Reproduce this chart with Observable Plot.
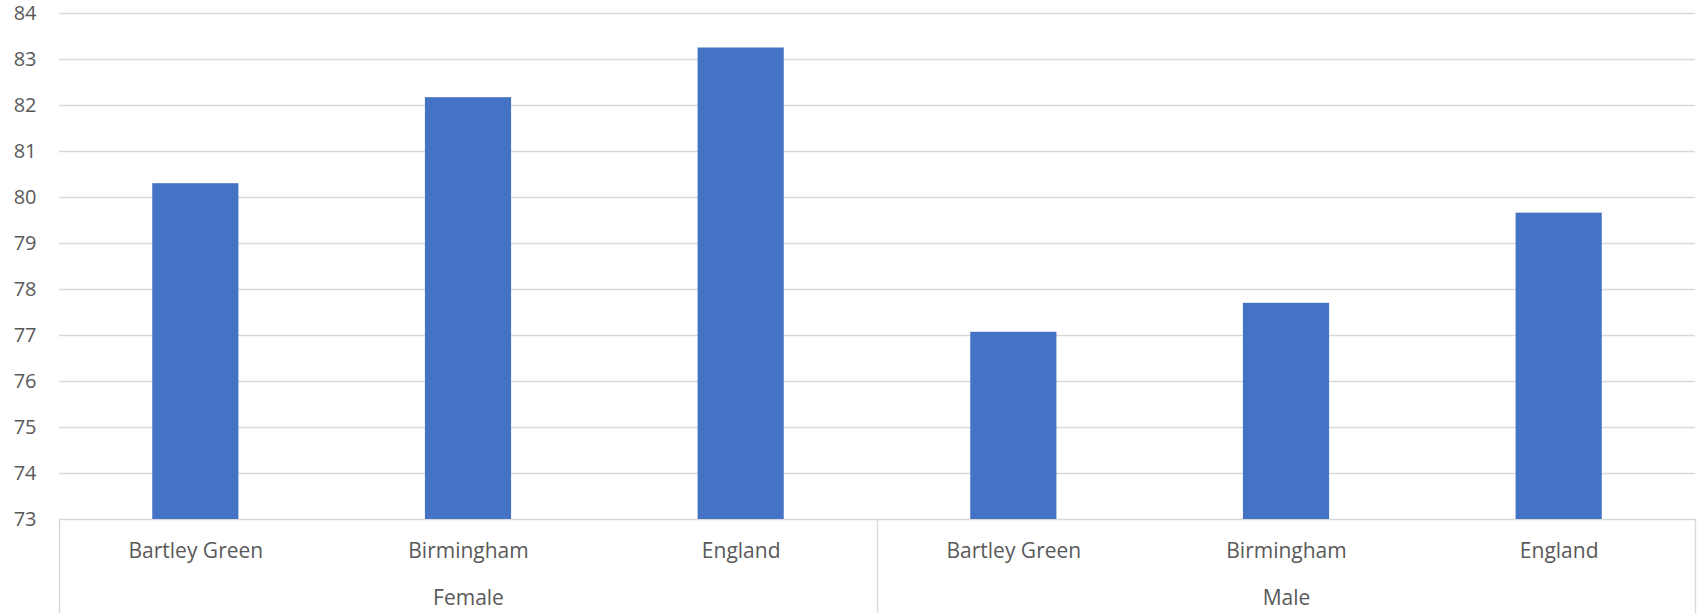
<!DOCTYPE html>
<html>
<head>
<meta charset="utf-8">
<script src="https://cdn.jsdelivr.net/npm/d3@7"></script>
<script src="https://cdn.jsdelivr.net/npm/@observablehq/plot@0.6"></script>
<style>
  html, body { margin: 0; padding: 0; background: #fff; }
</style>
</head>
<body>
<div id="chart"></div>
<script>
const groups = ["Female", "Male"];
const places = ["Bartley Green", "Birmingham", "England"];
const femaleValues = [80.30, 82.17, 83.25];
const maleValues = [77.07, 77.70, 79.66];
const yTicks = [73, 74, 75, 76, 77, 78, 79, 80, 81, 82, 83, 84];
const baseline = 73;

const seriesByGroup = [femaleValues, maleValues];
const rows = groups.flatMap((g, gi) =>
  places.map((p, pi) => ({group: g, place: p, value: seriesByGroup[gi][pi], i: gi * places.length + pi}))
);
const groupRows = groups.map((g, gi) => ({group: g, center: gi * places.length + places.length / 2}));
const dividers = d3.range(0, groups.length * places.length + 1, places.length);

const halfBar = 0.158;
const marginBottom = 94;

const chart = Plot.plot({
  width: 1700,
  height: 613,
  marginLeft: 59,
  marginRight: 5,
  marginTop: 13,
  marginBottom: marginBottom,
  style: {fontFamily: "'Open Sans', sans-serif", color: "#595959", background: "#fff"},
  x: {type: "linear", domain: [0, groups.length * places.length], axis: null},
  y: {domain: [73, 84], axis: null},
  marks: [
    Plot.ruleY(yTicks, {stroke: "#d9d9d9", strokeWidth: 1.4}),
    Plot.axisY(yTicks, {tickSize: 0, tickPadding: 23, fontSize: 20, fill: "#595959", label: null, tickFormat: d => String(d)}),
    Plot.rect(rows, {
      x1: d => d.i + 0.5 - halfBar,
      x2: d => d.i + 0.5 + halfBar,
      y1: () => baseline,
      y2: "value",
      fill: "#4472C4"
    }),
    Plot.ruleX(dividers, {x: d => d, y1: () => baseline, y2: () => baseline, insetBottom: -marginBottom, stroke: "#d9d9d9", strokeWidth: 1.4}),
    Plot.text(rows, {x: d => d.i + 0.5, frameAnchor: "bottom", dy: 38, text: "place", fontSize: 21, fill: "#595959"}),
    Plot.text(groupRows, {x: "center", frameAnchor: "bottom", dy: 85, text: "group", fontSize: 21, fill: "#595959"})
  ]
});
document.getElementById("chart").appendChild(chart);
</script>
</body>
</html>
